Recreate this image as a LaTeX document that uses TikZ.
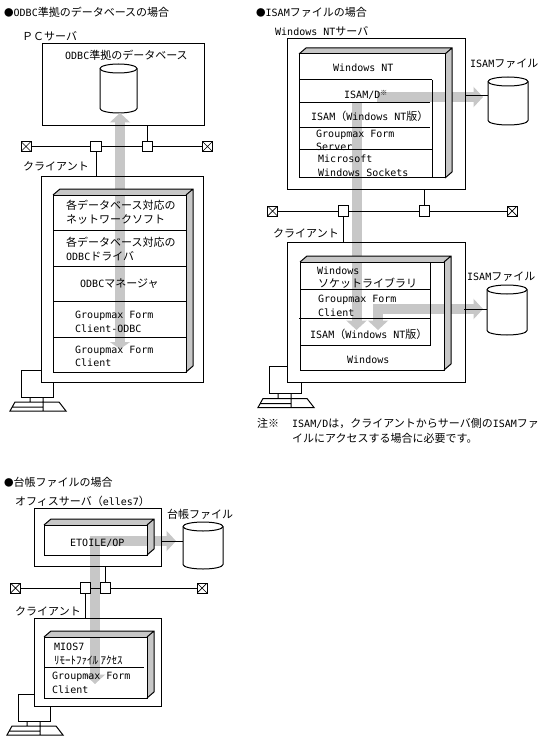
\documentclass[tikz,border=0pt]{standalone}
\usepackage{fontspec}
\setmainfont{DejaVu Sans Mono}
\newfontfamily\jpfont{Noto Sans CJK JP}
\usetikzlibrary{arrows.meta}
\definecolor{flowgray}{gray}{0.78}
\newcommand{\jp}[1]{{\jpfont\fontsize{11}{13}\selectfont #1}}
\newcommand{\headdot}{{\jpfont\fontsize{9.5}{11}\selectfont ●}}
\newcommand{\kome}{\raisebox{3pt}{\jpfont\fontsize{7}{8}\selectfont ※}}
\tikzset{
  thin box/.style={draw,line width=1pt,inner sep=0pt,outer sep=0pt},
  hostbox/.style={thin box,fill=white},
  stackbox/.style={thin box,fill=white},
  hubbox/.style={thin box,fill=white,minimum size=10.5pt},
  termbox/.style={thin box,fill=white,minimum size=10pt,
    path picture={\draw[line width=.7pt] (path picture bounding box.north west) -- (path picture bounding box.south east)
      (path picture bounding box.north east) -- (path picture bounding box.south west);}},
  dbframe/.style={inner sep=0pt,outer sep=0pt},
  flowline/.style={draw=flowgray,line width=10pt},
  flowtip/.style={flowline,-{Triangle[length=9.5pt,width=20pt]}},
  flowboth/.style={flowline,{Triangle[length=9.5pt,width=20pt]}-{Triangle[length=9.5pt,width=20pt]}},
  flowshort/.style={flowline,{Triangle[length=9.5pt,width=20pt]}-{Triangle[length=7pt,width=20pt]}},
  lbl/.style={anchor=west,inner sep=0pt,text height=8pt,text depth=0pt,font=\fontsize{10}{12}\selectfont},
  pcunit/.pic={
    \draw[line width=1pt,fill=white] (21,370) rectangle (53,397);
    \draw[line width=1pt] (30,397) -- (30,402) (43,397) -- (43,411)
      (15,402) -- (59,402) -- (66,411) -- (10,411) -- cycle (12.5,407) -- (43,407);
  }
}
\begin{document}
\begin{tikzpicture}[x=1pt,y=-1pt]
  \useasboundingbox (0,0) rectangle (555,738);
  \foreach \name/\x/\y in {pcOdbc/0/0, pcIsam/248/-3.5, pcLedger/-3/324}{
    \pic (\name) at (\x,\y) {pcunit};
  }
  \foreach \name/\x/\y/\w/\h in {pcServer/123.25/85/162.5/82, odbcClient/122/279.5/162/205,
    ntServer/376/114/178/150, isamClient/376/312/178/140,
    officeServer/97.5/537/127/58, ledgerClient/97.5/662/127/88}{
    \node[hostbox,minimum width=\w,minimum height=\h] (\name) at (\x,\y) {};
  }
  \foreach \name/\x/\y/\w/\h in {odbcStack/119.5/283.5/133/177, ntStack/372/116/146/124,
    winStack/372/316/144/108, etoileBox/95.5/540/103/30, miosStack/95.5/667.5/103/61}{
    \node[stackbox,minimum width=\w,minimum height=\h] (\name) at (\x,\y) {};
    \fill[flowgray] (\name.north west) -- ++(7,-6) -- ([shift={(7,-6)}]\name.north east)
      -- ([shift={(7,-6)}]\name.south east) -- (\name.south east) -- (\name.north east) -- cycle;
  }
  \foreach \name/\x/\y/\w/\h in {odbcDb/118.5/88.5/37/49, isamDbA/508/101/40/48,
    isamDbB/507/310/40/50, ledgerDb/203/545.5/40/47}{
    \node[dbframe,minimum width=\w,minimum height=\h] (\name) at (\x,\y) {};
    \draw[line width=1pt,fill=white] (\name.north west) ++(0,4.5) -- ++(0,\h-9)
      arc[start angle=180,end angle=0,x radius=\w/2,y radius=4.5] -- ++(0,9-\h)
      arc[start angle=0,end angle=-180,x radius=\w/2,y radius=4.5] -- cycle;
    \draw[line width=1pt] (\name.north west) ++(0,4.5)
      arc[start angle=180,end angle=0,x radius=\w/2,y radius=4.5];
  }
  \coordinate (odbcFlowA) at (120,113);
  \coordinate (odbcFlowB) at (120,349);
  \coordinate (ntFlowA) at (356.5,103);
  \coordinate (ntFlowB) at (356.5,330);
  \coordinate (dFlowA) at (377,97);
  \coordinate (dFlowB) at (483,97);
  \coordinate (winFlowA) at (378,330);
  \coordinate (winFlowM) at (378,309);
  \coordinate (winFlowB) at (483,309);
  \coordinate (ledgerFlowA) at (90,541);
  \coordinate (ledgerFlowB) at (176,541);
  \coordinate (ledgerFlowM) at (95,541);
  \coordinate (ledgerFlowC) at (95,684);
  \draw[flowshort] (odbcFlowA) -- (odbcFlowB);
  \draw[flowtip] (ntFlowA) -- (ntFlowB);
  \draw[flowtip] (dFlowA) -- (dFlowB);
  \draw[flowboth,line join=miter] (winFlowB) -- (winFlowM) -- (winFlowA);
  \draw[flowtip] (ledgerFlowA) -- (ledgerFlowB);
  \draw[flowtip] (ledgerFlowM) -- (ledgerFlowC);
  \foreach \name in {pcServer,odbcClient,ntServer,isamClient,officeServer,ledgerClient,odbcStack,ntStack,winStack,etoileBox,miosStack}{
    \draw[line width=1pt] (\name.south west) rectangle (\name.north east);
  }
  \foreach \name in {odbcStack,ntStack,winStack,etoileBox,miosStack}{
    \draw[line width=1pt] (\name.north west) -- ++(7,-6) -- ([shift={(7,-6)}]\name.north east)
      -- ([shift={(7,-6)}]\name.south east) -- (\name.south east) (\name.north east) -- ++(7,-6);
  }
  \draw[line width=1pt] (432,80) -- (299,80) (432,80) -- (432,178) (300,345) -- (430,345) -- (430,262);
  \foreach \xa/\xb/\yy in {53/186/230, 53/186/266, 53/186/301, 53/186/337,
    299/430/103, 299/430/128, 299/432/150, 300/430/289, 299/430/318, 44/144/667}{
    \draw[line width=1pt] (\xa,\yy) -- (\xb,\yy);
  }
  \foreach \name/\x/\y in {odbcTermL/26/146.5, odbcTermR/207.5/146.5, isamTermL/272.5/211, isamTermR/512/211,
    ledgerTermL/15.5/588, ledgerTermR/202/588}{
    \node[termbox] (\name) at (\x,\y) {};
  }
  \foreach \name/\x/\y in {odbcHubA/96/146.5, odbcHubB/147.5/146.5, isamHubA/343.5/211, isamHubB/424.5/211,
    ledgerHubA/85.5/588, ledgerHubB/105.5/588}{
    \node[hubbox] (\name) at (\x,\y) {};
  }
  \foreach \nodea/\nodeb in {odbcTermL/odbcHubA, odbcHubA/odbcHubB, odbcHubB/odbcTermR,
    isamTermL/isamHubA, isamHubA/isamHubB, isamHubB/isamTermR,
    ledgerTermL/ledgerHubA, ledgerHubA/ledgerHubB, ledgerHubB/ledgerTermR}{
    \draw[line width=1pt] (\nodea) -- (\nodeb);
  }
  \draw[line width=1pt] (odbcHubB) -- (odbcHubB |- pcServer.south);
  \draw[line width=1pt] (odbcHubA) -- (odbcHubA |- odbcClient.north);
  \draw[line width=1pt] (isamHubB) -- (isamHubB |- ntServer.south);
  \draw[line width=1pt] (isamHubA) -- (isamHubA |- isamClient.north);
  \draw[line width=1pt] (ledgerHubB) -- (ledgerHubB |- officeServer.south);
  \draw[line width=1pt] (ledgerHubA) -- (ledgerHubA |- ledgerClient.north);
  \coordinate (dOut) at (465,96);
  \coordinate (winOut) at (464,309);
  \coordinate (ledgerOut) at (161,541);
  \draw[line width=1pt] (dOut) -- (dOut -| isamDbA.west);
  \draw[line width=1pt] (winOut) -- (winOut -| isamDbB.west);
  \draw[line width=1pt] (ledgerOut) -- (ledgerOut -| ledgerDb.west);
  \foreach \name/\x/\y/\txt in {
    titleOdbc/4/13/{\headdot ODBC\jp{準拠のデータベースの場合}},
    labelPc/22/37/{\jp{ＰＣサーバ}},
    labelOdbcDb/65/56/{ODBC\jp{準拠のデータベース}},
    labelClientA/23/167/{\jp{クライアント}},
    textNetA/66/205/{\jp{各データベース対応の}},
    textNetB/66/219/{\jp{ネットワークソフト}},
    textDrvA/66/242/{\jp{各データベース対応の}},
    textDrvB/66/256/{ODBC\jp{ドライバ}},
    textMgr/80/283/{ODBC\jp{マネージャ}},
    textCoA/75/314/{Groupmax Form},
    textCoB/75/328/{Client-ODBC},
    textCliA/75/349/{Groupmax Form},
    textCliB/75/362/{Client},
    titleIsam/256/13/{\headdot ISAM\jp{ファイルの場合}},
    labelNt/275/32/{Windows NT\jp{サーバ}},
    textNt/333/68/{Windows NT},
    textIsamD/344/95/{ISAM/D\kome},
    textIsamNt/311/117/{ISAM\jp{（}Windows NT\jp{版）}},
    textSrvA/316/134/{Groupmax Form},
    textSrvB/316/147/{Server},
    textSockA/318/159/{Microsoft},
    textSockB/318/173/{Windows Sockets},
    labelIsamA/470/64/{ISAM\jp{ファイル}},
    labelClientB/273/233/{\jp{クライアント}},
    textWinA/317/270/{Windows},
    textWinB/318/283/{\jp{ソケットライブラリ}},
    textGfA/318/298/{Groupmax Form},
    textGfB/318/312/{Client},
    textIsamWin/310/334/{ISAM\jp{（}Windows NT\jp{版）}},
    textWin/347/359/{Windows},
    labelIsamB/467/276/{ISAM\jp{ファイル}},
    noteMark/257/423/{\jp{注※}},
    noteA/292/423/{ISAM/D\jp{は，クライアントからサーバ側の}ISAM\jp{ファ}},
    noteB/292/438/{\jp{イルにアクセスする場合に必要です。}},
    titleLedger/4/482/{\headdot\jp{台帳ファイルの場合}},
    labelOffice/15/501/{\jp{オフィスサーバ（}elles7\jp{）}},
    labelLedger/167/514/{\jp{台帳ファイル}},
    textEtoile/70/542/{ETOILE/OP},
    labelClientC/15/611/{\jp{クライアント}},
    textMios/54/646/{MIOS7},
    textRemote/54/660/{\jp{ﾘﾓｰﾄﾌｧｲﾙ ｱｸｾｽ}},
    textLcA/52/675/{Groupmax Form},
    textLcB/52/689/{Client}}{
    \node[lbl] (\name) at (\x,\y) {\txt};
  }
\end{tikzpicture}
\end{document}
